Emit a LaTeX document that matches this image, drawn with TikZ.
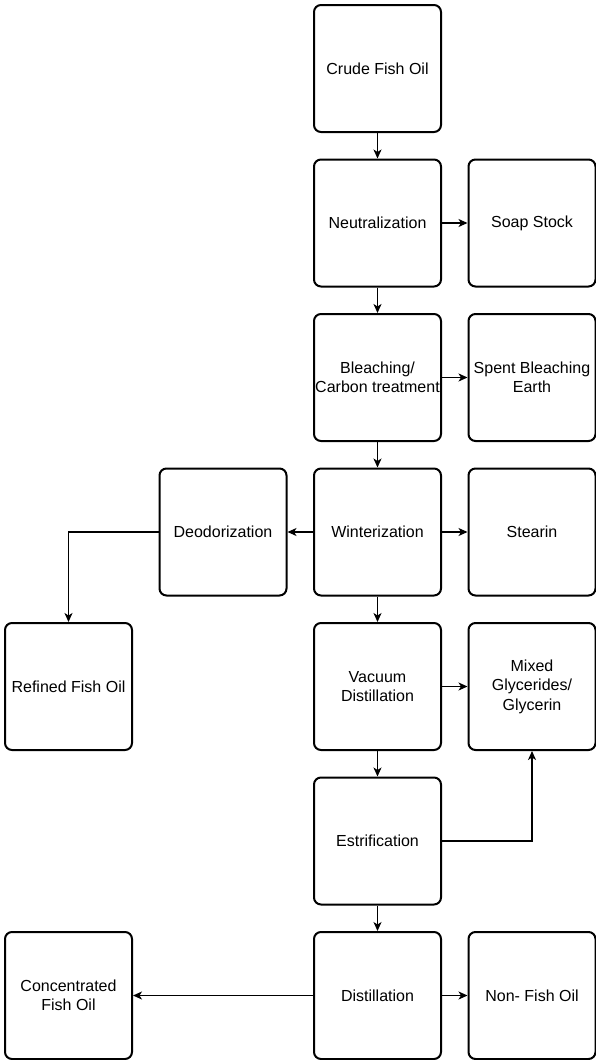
\documentclass[tikz,border=0pt]{standalone}
\usepackage{fontspec}
\setmainfont{Liberation Sans}
\usetikzlibrary{arrows.meta}
\begin{document}
\begin{tikzpicture}[x=1pt,y=-1pt,
  box/.style={draw, line width=2pt, rounded corners=7pt, minimum width=127pt, minimum height=127pt, inner sep=0pt, align=center, font=\fontsize{16}{19.5}\selectfont},
  arr/.style={line width=1.3pt, -{Stealth[length=9pt,width=8pt,inset=2.5pt]}}]
\useasboundingbox (0,0) rectangle (596,1060);
\node[box] (crude) at (377.5,68.5) {Crude Fish Oil};
\node[box] (neut) at (377.5,223) {Neutralization};
\node[box] (soap) at (532,223) {Soap Stock};
\node[box] (bleach) at (377.5,377.5) {Bleaching/\\Carbon treatment};
\node[box] (spent) at (532,377.5) {Spent Bleaching\\Earth};
\node[box] (wint) at (377.5,532) {Winterization};
\node[box] (deo) at (223,532) {Deodorization};
\node[box] (stearin) at (532,532) {Stearin};
\node[box] (vac) at (377.5,686.5) {Vacuum\\Distillation};
\node[box] (mixed) at (532,686.5) {Mixed\\Glycerides/\\Glycerin};
\node[box] (refined) at (68.5,686.5) {Refined Fish Oil};
\node[box] (estr) at (377.5,841) {Estrification};
\node[box] (dist) at (377.5,995.5) {Distillation};
\node[box] (conc) at (68.5,995.5) {Concentrated\\Fish Oil};
\node[box] (nonfish) at (532,995.5) {Non- Fish Oil};
\draw[arr] (crude) -- (neut);
\draw[arr] (neut) -- (soap);
\draw[arr] (neut) -- (bleach);
\draw[arr] (bleach) -- (spent);
\draw[arr] (bleach) -- (wint);
\draw[arr] (wint) -- (stearin);
\draw[arr] (wint) -- (deo);
\draw[arr] (deo.west) -| (refined.north);
\draw[arr] (wint) -- (vac);
\draw[arr] (vac) -- (mixed);
\draw[arr] (vac) -- (estr);
\draw[arr] (estr.east) -| (mixed.south);
\draw[arr] (estr) -- (dist);
\draw[arr] (dist) -- (conc);
\draw[arr] (dist) -- (nonfish);
\end{tikzpicture}
\end{document}
